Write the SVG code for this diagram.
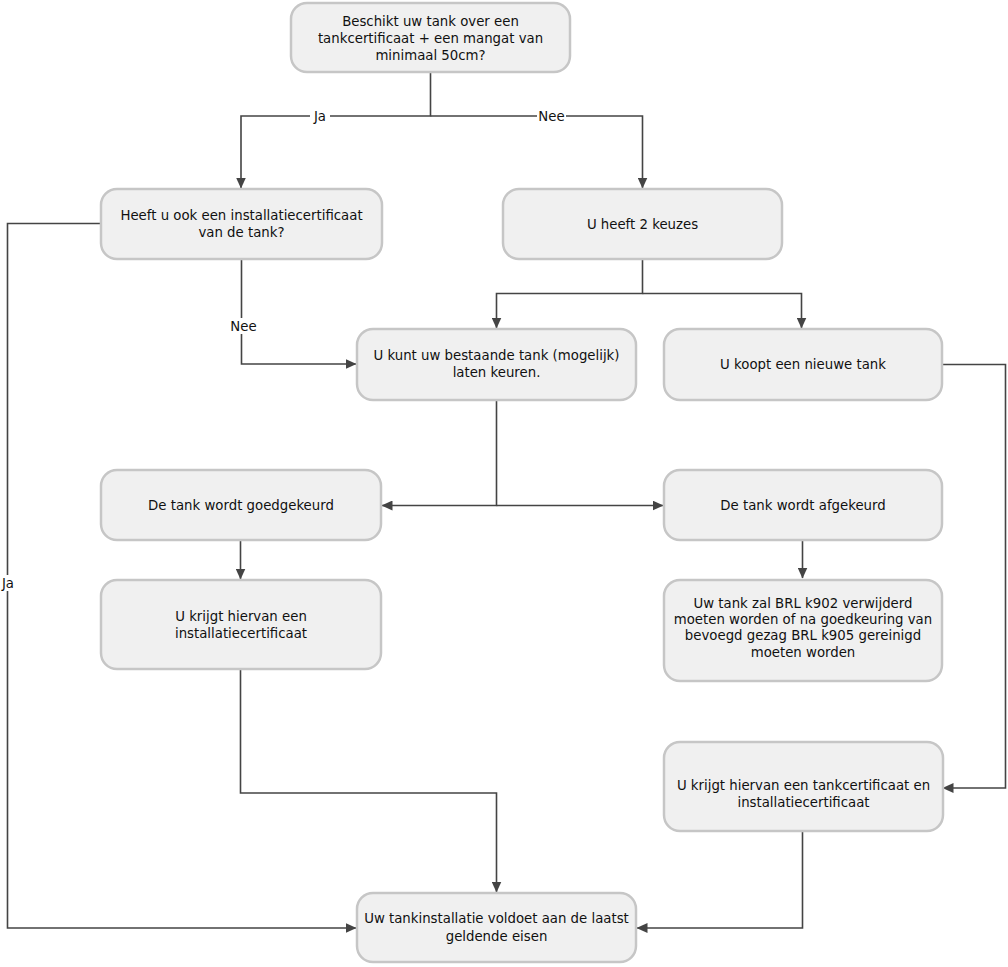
<svg xmlns="http://www.w3.org/2000/svg" width="1008" height="967" viewBox="0 0 1008 967">
<defs>
<style>
.node rect{fill:#f0f0f0;stroke:#c6c6c6;stroke-width:2.5}
.node text,.lbl{font-family:"DejaVu Sans",Verdana,sans-serif;font-size:13.3px;fill:#111;text-anchor:middle}
.edge{fill:none;stroke:#444;stroke-width:1.6}
.lblbg{fill:#fff}
</style>
<marker id="ah" markerUnits="userSpaceOnUse" markerWidth="11" markerHeight="10" refX="10.5" refY="5" orient="auto" viewBox="0 0 11 10">
<path d="M0,0 L11,5 L0,10 z" fill="#444"/>
</marker>
</defs>
<rect width="1008" height="967" fill="#fff"/>
<g id="connectors">
<path class="edge" d="M430.5,72 V116 H241 V188" marker-end="url(#ah)"/>
<path class="edge" d="M430.5,116 H642.5 V188" marker-end="url(#ah)"/>
<path class="edge" d="M101,223.5 H7.5 V928 H356" marker-end="url(#ah)"/>
<path class="edge" d="M241.5,259 V364 H356" marker-end="url(#ah)"/>
<path class="edge" d="M642.5,259 V293.5 H496.5 V328" marker-end="url(#ah)"/>
<path class="edge" d="M642.5,293.5 H801.5 V328" marker-end="url(#ah)"/>
<path class="edge" d="M496.5,400 V505.5 H382" marker-end="url(#ah)"/>
<path class="edge" d="M496.5,505.5 H663" marker-end="url(#ah)"/>
<path class="edge" d="M240.5,540 V579" marker-end="url(#ah)"/>
<path class="edge" d="M802.5,540 V578" marker-end="url(#ah)"/>
<path class="edge" d="M240.5,669 V793 H496.5 V892" marker-end="url(#ah)"/>
<path class="edge" d="M942,364.5 H1005.5 V788 H943" marker-end="url(#ah)"/>
<path class="edge" d="M802.5,831 V928 H637" marker-end="url(#ah)"/>
<rect class="lblbg" x="310" y="107" width="20" height="16"/>
<text class="lbl" x="320" y="120.5">Ja</text>
<rect class="lblbg" x="537" y="107" width="29" height="16"/>
<text class="lbl" x="551.5" y="120.5">Nee</text>
<rect class="lblbg" x="229" y="318" width="29" height="16"/>
<text class="lbl" x="243.5" y="331">Nee</text>
<rect class="lblbg" x="0" y="575" width="17" height="16"/>
<text class="lbl" x="8" y="587.5">Ja</text>
</g>
<g id="n1" class="node"><rect x="291" y="3" width="279" height="69" rx="16"/>
<text x="430.5" y="25.5">Beschikt uw tank over een</text><text x="430.5" y="42.5">tankcertificaat + een mangat van</text><text x="430.5" y="59.5">minimaal 50cm?</text></g>
<g id="n2" class="node"><rect x="101" y="189" width="281" height="70" rx="16"/>
<text x="241.5" y="220">Heeft u ook een installatiecertificaat</text><text x="241.5" y="237.3">van de tank?</text></g>
<g id="n3" class="node"><rect x="503" y="189" width="279" height="70" rx="16"/>
<text x="642.5" y="228.7">U heeft 2 keuzes</text></g>
<g id="n4" class="node"><rect x="357" y="329" width="279" height="71" rx="16"/>
<text x="496.5" y="360">U kunt uw bestaande tank (mogelijk)</text><text x="496.5" y="377.3">laten keuren.</text></g>
<g id="n5" class="node"><rect x="664" y="329" width="278" height="71" rx="16"/>
<text x="803" y="369">U koopt een nieuwe tank</text></g>
<g id="n6" class="node"><rect x="101" y="470" width="280" height="70" rx="16"/>
<text x="241" y="509.5">De tank wordt goedgekeurd</text></g>
<g id="n7" class="node"><rect x="664" y="470" width="278" height="70" rx="16"/>
<text x="803" y="509.5">De tank wordt afgekeurd</text></g>
<g id="n8" class="node"><rect x="101" y="580" width="280" height="89" rx="16"/>
<text x="241" y="620.5">U krijgt hiervan een</text><text x="241" y="637.8">installatiecertificaat</text></g>
<g id="n9" class="node"><rect x="664" y="580" width="278" height="101" rx="16"/>
<text x="803" y="607.5">Uw tank zal BRL k902 verwijderd</text><text x="803" y="623.8">moeten worden of na goedkeuring van</text><text x="803" y="640.1">bevoegd gezag BRL k905 gereinigd</text><text x="803" y="656.5">moeten worden</text></g>
<g id="n10" class="node"><rect x="664" y="742" width="279" height="89" rx="16"/>
<text x="803.5" y="790">U krijgt hiervan een tankcertificaat en</text><text x="803.5" y="807">installatiecertificaat</text></g>
<g id="n11" class="node"><rect x="357" y="893" width="279" height="69" rx="16"/>
<text x="496.5" y="923">Uw tankinstallatie voldoet aan de laatst</text><text x="496.5" y="941">geldende eisen</text></g>
</svg>
